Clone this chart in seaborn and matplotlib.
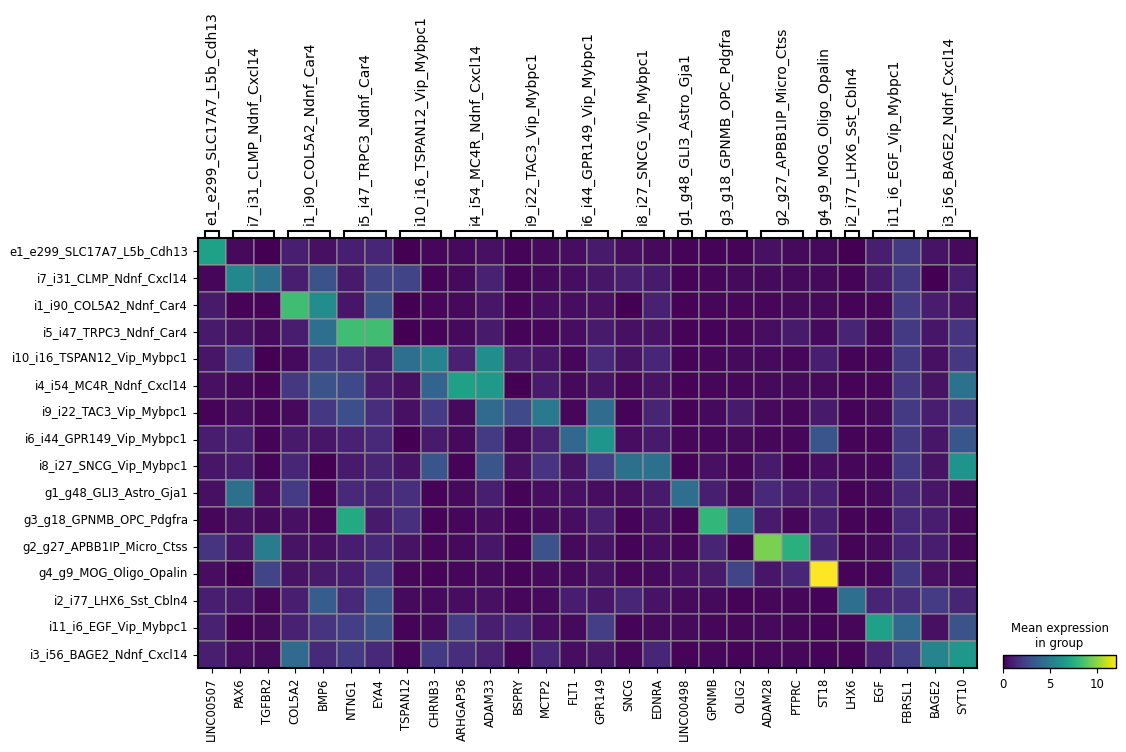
import matplotlib
matplotlib.use('Agg')
from matplotlib import pyplot as plt
import numpy as np
import pandas as pd
import seaborn as sns

# clusters (rows) and marker genes (columns)
clusters = ['e1_e299_SLC17A7_L5b_Cdh13', 'i7_i31_CLMP_Ndnf_Cxcl14', 'i1_i90_COL5A2_Ndnf_Car4',
            'i5_i47_TRPC3_Ndnf_Car4', 'i10_i16_TSPAN12_Vip_Mybpc1', 'i4_i54_MC4R_Ndnf_Cxcl14',
            'i9_i22_TAC3_Vip_Mybpc1', 'i6_i44_GPR149_Vip_Mybpc1', 'i8_i27_SNCG_Vip_Mybpc1',
            'g1_g48_GLI3_Astro_Gja1', 'g3_g18_GPNMB_OPC_Pdgfra', 'g2_g27_APBB1IP_Micro_Ctss',
            'g4_g9_MOG_Oligo_Opalin', 'i2_i77_LHX6_Sst_Cbln4', 'i11_i6_EGF_Vip_Mybpc1',
            'i3_i56_BAGE2_Ndnf_Cxcl14']
genes = ['LINC00507', 'PAX6', 'TGFBR2', 'COL5A2', 'BMP6', 'NTNG1', 'EYA4', 'TSPAN12', 'CHRNB3',
         'ARHGAP36', 'ADAM33', 'BSPRY', 'MCTP2', 'FLT1', 'GPR149', 'SNCG', 'EDNRA', 'LINC00498',
         'GPNMB', 'OLIG2', 'ADAM28', 'PTPRC', 'ST18', 'LHX6', 'EGF', 'FBRSL1', 'BAGE2', 'SYT10']
# number of genes belonging to each cluster (same order as clusters)
genes_per_group = [1, 2, 2, 2, 2, 2, 2, 2, 2, 1, 2, 2, 1, 1, 2, 2]

# mean expression per cluster
e1 = [6.8, 0.3, 0.0, 1.0, 0.5, 1.0, 1.3, 0.0, 0.2, 0.3, 0.5, 0.1, 0.3, 0.4, 0.8, 0.4, 0.3, 0.1, 0.1, 0.1, 0.5, 0.3, 0.3, 0.0, 1.0, 2.0, 0.6, 0.3]
i7 = [0.2, 5.6, 4.5, 1.0, 3.0, 0.8, 2.4, 2.4, 0.1, 0.3, 1.1, 0.1, 0.3, 0.4, 0.7, 1.0, 0.8, 0.1, 0.2, 0.3, 0.3, 0.3, 0.3, 0.1, 0.8, 2.0, 0.0, 0.9]
i1 = [0.8, 0.1, 0.1, 8.3, 5.9, 0.7, 3.0, 0.0, 0.2, 0.3, 0.7, 0.1, 0.4, 0.4, 0.5, 0.0, 1.1, 0.1, 0.2, 0.2, 0.2, 0.3, 0.3, 0.1, 0.2, 2.1, 0.9, 0.6]
i5 = [0.8, 0.6, 0.3, 0.9, 4.3, 8.3, 8.3, 0.0, 0.1, 0.3, 0.8, 0.1, 0.2, 0.4, 0.8, 0.5, 0.6, 0.1, 0.1, 0.2, 0.4, 0.8, 0.3, 1.2, 0.3, 2.0, 0.7, 1.8]
i10 = [0.7, 2.1, 0.0, 0.3, 1.9, 1.6, 0.9, 4.3, 5.4, 1.1, 5.9, 0.9, 0.7, 0.2, 1.4, 0.6, 1.3, 0.1, 0.2, 0.3, 0.3, 0.2, 1.0, 0.1, 0.2, 2.0, 0.5, 1.9]
i4 = [0.5, 0.3, 0.1, 1.9, 3.0, 2.6, 0.9, 0.5, 3.8, 6.8, 6.5, 0.0, 0.8, 0.3, 0.6, 0.2, 0.6, 0.1, 0.2, 0.2, 0.3, 0.3, 0.3, 0.1, 0.2, 1.9, 0.6, 4.5]
i9 = [0.1, 0.4, 0.1, 0.3, 1.9, 2.9, 1.5, 0.5, 2.1, 0.3, 4.1, 2.7, 4.9, 0.2, 4.2, 0.1, 1.2, 0.1, 0.3, 0.8, 0.3, 0.2, 0.8, 0.1, 0.3, 2.0, 0.9, 1.9]
i6 = [0.9, 1.1, 0.1, 0.8, 0.7, 1.1, 1.4, 0.0, 0.8, 0.3, 2.0, 0.3, 1.1, 4.0, 6.3, 0.4, 0.8, 0.2, 0.2, 0.3, 0.2, 0.2, 3.2, 0.1, 0.2, 2.0, 0.7, 3.2]
i8 = [0.7, 0.9, 0.1, 1.3, 0.0, 0.8, 1.2, 0.6, 3.1, 0.1, 3.1, 0.5, 1.8, 0.6, 2.2, 4.4, 4.4, 0.1, 0.5, 0.2, 0.8, 0.1, 0.4, 0.2, 0.2, 2.0, 0.6, 6.2]
g1 = [0.5, 4.4, 0.4, 2.1, 0.1, 1.4, 1.2, 1.6, 0.1, 0.3, 1.0, 0.1, 0.4, 0.5, 0.4, 0.4, 0.8, 4.3, 1.0, 0.3, 1.4, 0.9, 1.1, 0.1, 0.3, 1.4, 0.7, 0.3]
g3 = [0.2, 0.5, 0.3, 0.5, 0.2, 7.3, 0.8, 1.6, 0.1, 0.2, 0.4, 0.1, 0.3, 0.4, 1.0, 0.1, 0.6, 0.1, 7.9, 4.3, 0.8, 0.2, 1.0, 0.1, 0.1, 1.4, 0.9, 0.2]
g2 = [1.8, 0.7, 5.0, 0.6, 0.5, 0.9, 1.3, 0.6, 0.2, 0.3, 0.7, 0.1, 3.0, 0.3, 0.6, 0.1, 0.4, 0.2, 1.2, 0.1, 9.6, 7.6, 1.2, 0.1, 0.3, 1.3, 0.9, 0.2]
g4 = [0.4, 0.0, 2.4, 0.6, 0.8, 0.9, 2.0, 0.2, 0.1, 0.2, 0.3, 0.1, 0.3, 0.3, 0.6, 0.2, 0.3, 0.5, 0.8, 2.4, 0.7, 1.3, 12.0, 0.1, 0.2, 2.0, 0.5, 0.3]
i2 = [1.0, 0.8, 0.2, 1.0, 3.5, 1.4, 3.1, 0.3, 0.3, 0.4, 0.5, 0.2, 0.3, 0.9, 0.7, 1.3, 0.6, 0.3, 0.3, 0.1, 0.2, 0.2, 0.1, 4.3, 1.2, 1.5, 2.1, 1.2]
i11 = [1.1, 0.1, 0.3, 1.1, 1.8, 2.2, 3.0, 0.1, 0.3, 2.1, 1.0, 1.3, 0.4, 0.3, 2.2, 0.1, 0.3, 0.3, 0.2, 0.2, 0.3, 0.2, 0.1, 0.2, 6.8, 4.0, 0.5, 3.0]
i3 = [1.0, 0.4, 0.3, 4.1, 1.4, 2.0, 1.4, 0.1, 2.0, 1.5, 1.1, 0.1, 1.3, 0.4, 0.7, 0.2, 1.3, 0.1, 0.2, 0.1, 0.2, 0.2, 0.1, 0.1, 1.1, 2.2, 5.4, 6.4]

df = pd.DataFrame([e1, i7, i1, i5, i10, i4, i9, i6, i8, g1, g3, g2, g4, i2, i11, i3],
                  index=clusters, columns=genes)

fig = plt.figure(figsize=(11.26, 7.52), dpi=100)
ax = fig.add_axes([0.1758, 0.1117, 0.6918, 0.5718])
cax = fig.add_axes([0.8908, 0.1117, 0.1004, 0.0173])
bax = fig.add_axes([0.1758, 0.6835, 0.6918, 0.016])

sns.heatmap(df, ax=ax, cmap='viridis', vmin=0, cbar_ax=cax,
            cbar_kws={'orientation': 'horizontal'},
            linewidths=0.3, linecolor=(0.6, 0.6, 0.6, 0.5))
ax.set_xticks(np.arange(len(genes)) + 0.5)
ax.set_xticklabels(genes, rotation=90, fontsize='small')
ax.set_yticks(np.arange(len(clusters)) + 0.5)
ax.set_yticklabels(clusters, rotation=0, fontsize='small')
ax.set_xlabel('')
ax.set_ylabel('')
for sp in ax.spines.values():
    sp.set_visible(True)
    sp.set_linewidth(1.5)

# colorbar
cbar = ax.collections[0].colorbar
cbar.set_ticks([0, 5, 10])
cbar.outline.set_visible(True)
cbar.outline.set_linewidth(1)
cax.set_title('Mean expression\nin group', fontsize='small')
cax.tick_params(labelsize='small')

# group brackets above the heatmap
bax.set_xlim(0, len(genes))
bax.set_ylim(0, 1)
bax.axis('off')
start = 0
for name, n in zip(clusters, genes_per_group):
    left = start + 0.25
    right = start + n - 1 + 0.75
    bax.plot([left, left, right, right], [0, 0.6, 0.6, 0], color='black', lw=1.5,
             clip_on=False, solid_joinstyle='miter')
    bax.text((left + right) / 2, 1.1, name, rotation=90, ha='center', va='bottom',
             fontsize=10, clip_on=False)
    start += n

plt.savefig('out.png', dpi=100)
